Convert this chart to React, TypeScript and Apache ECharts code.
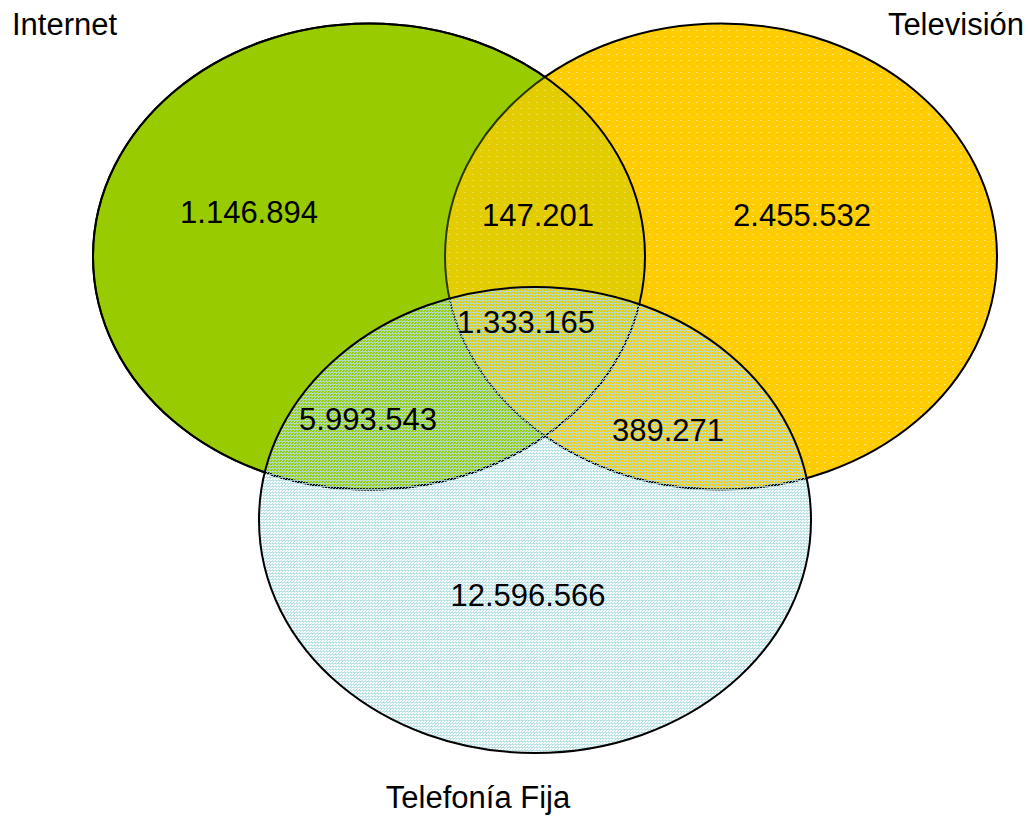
import React, { useEffect, useRef } from "react";
import * as echarts from "echarts";

const setNames = ["Internet", "Televisión", "Telefonía Fija"];
const regionLabels = [
  "1.146.894",
  "147.201",
  "2.455.532",
  "1.333.165",
  "5.993.543",
  "389.271",
  "12.596.566",
];

export default function App() {
  const ref = useRef<HTMLDivElement>(null);
  useEffect(() => {
    const chart = echarts.init(ref.current!, null, { renderer: "svg" });
    const font = "Liberation Sans, Arial, sans-serif";
    const fs = 31;

    // Telefonía fija: light cyan dotted pattern (semi-transparent)
    const telTile = document.createElement("canvas");
    telTile.width = 3;
    telTile.height = 3;
    const tctx = telTile.getContext("2d")!;
    tctx.fillStyle = "rgba(175,222,228,0.85)";
    tctx.fillRect(0, 0, 3, 1);
    tctx.fillRect(0, 1, 1, 1);
    tctx.fillRect(2, 2, 1, 1);

    // Televisión: yellow with sparse light dots
    const tvTile = document.createElement("canvas");
    tvTile.width = 8;
    tvTile.height = 6;
    const vctx = tvTile.getContext("2d")!;
    vctx.fillStyle = "#FFCC00";
    vctx.fillRect(0, 0, 8, 6);
    vctx.fillStyle = "#FFE680";
    vctx.fillRect(0, 0, 2, 1);

    const txt = (t: string, x: number, y: number, align = "center") => ({
      type: "text",
      x,
      y,
      z: 10,
      style: {
        text: t,
        font: `${fs}px ${font}`,
        fill: "#000",
        align,
        verticalAlign: "middle",
      },
    });

    const internet = { cx: 369, cy: 256.5, rx: 276, ry: 233 };
    const tv = { cx: 721, cy: 256.5, rx: 276, ry: 233 };
    const tel = { cx: 535, cy: 520, rx: 276, ry: 233 };

    const elements: any[] = [
      {
        type: "ellipse",
        shape: internet,
        style: { fill: "#99CC00", stroke: "#000", lineWidth: 2 },
        z: 1,
      },
      {
        type: "ellipse",
        shape: tv,
        style: { fill: { image: tvTile, repeat: "repeat" }, stroke: "#000", lineWidth: 2 },
        z: 2,
      },
      {
        type: "ellipse",
        shape: internet,
        style: { fill: "rgba(153,204,0,0.28)", stroke: "#000", lineWidth: 2 },
        z: 3,
      },
      {
        type: "ellipse",
        shape: tel,
        style: {
          fill: { image: telTile, repeat: "repeat" },
          stroke: "#000",
          lineWidth: 2,
        },
        z: 4,
      },
      txt(setNames[0], 12, 24, "left"),
      txt(setNames[1], 1024, 24, "right"),
      txt(setNames[2], 478, 797),
      txt(regionLabels[0], 249, 212),
      txt(regionLabels[1], 538, 215),
      txt(regionLabels[2], 802, 215),
      txt(regionLabels[3], 526, 322),
      txt(regionLabels[4], 368, 419),
      txt(regionLabels[5], 668, 430),
      txt(regionLabels[6], 528, 595),
    ];

    chart.setOption({
      animation: false,
      backgroundColor: "#fff",
      graphic: { elements },
    });
    return () => chart.dispose();
  }, []);
  return <div ref={ref} style={{ width: 1028, height: 818, position: "absolute", left: 0, top: 0 }} />;
}
